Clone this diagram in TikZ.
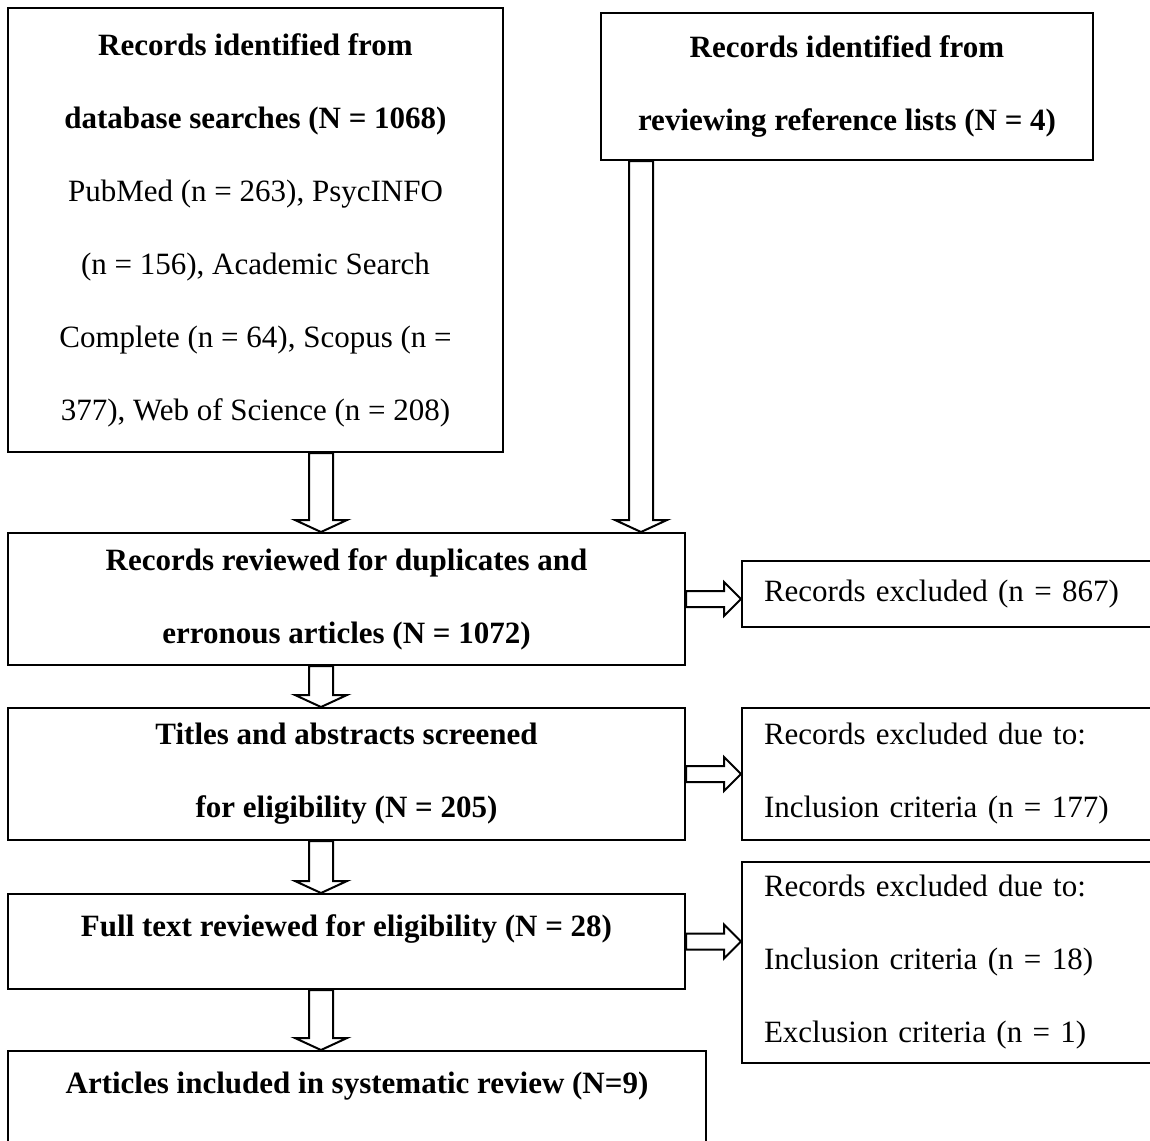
\documentclass[tikz,border=0pt]{standalone}
\usepackage{fontspec}
\setmainfont{Liberation Serif}
\usetikzlibrary{calc}
% hollow block arrows between two points
\newcommand{\downblock}[2]{%
  \filldraw[blockarrow] ($(#1)+(-12,0)$) -- ($(#2)+(-12,-12)$) -- ($(#2)+(-26,-12)$) -- (#2)
    -- ($(#2)+(26,-12)$) -- ($(#2)+(12,-12)$) -- ($(#1)+(12,0)$) -- cycle;}
\newcommand{\rightblock}[2]{%
  \filldraw[blockarrow] ($(#1)+(0,-8)$) -- ($(#2)+(-17,-8)$) -- ($(#2)+(-17,-17)$) -- (#2)
    -- ($(#2)+(-17,17)$) -- ($(#2)+(-17,8)$) -- ($(#1)+(0,8)$) -- cycle;}
\tikzset{
  box/.style={draw=black, line width=1pt, inner ysep=0pt, align=center,
    font=\fontsize{15.5}{36.5}\selectfont},
  sidebox/.style={box, align=left, inner xsep=11pt, text width=187pt},
  topbox/.style={box, anchor=base, text height=21pt, text depth=26.5pt},
  blockarrow/.style={draw=black, fill=white, line width=1pt, line join=miter},
}
\begin{document}
\begin{tikzpicture}[x=0.5pt, y=-0.5pt]
\useasboundingbox (0,0) rectangle (1150,1140);
% identification
\node[box, minimum width=247.5pt, minimum height=222pt] (db) at (255.5,230)
  {\textbf{Records identified from}\\ \textbf{database searches (N = 1068)}\\ PubMed (n = 263), PsycINFO\\ (n = 156), Academic Search\\ Complete (n = 64), Scopus (n =\\ 377), Web of Science (n = 208)};
\node[box, minimum width=246pt, minimum height=73.5pt] (ref) at (847,86.5)
  {\textbf{Records identified from}\\ \textbf{reviewing reference lists (N = 4)}};
% screening
\node[box, minimum width=338.5pt, minimum height=66pt] (dup) at (346.5,599)
  {\textbf{Records reviewed for duplicates and}\\ \textbf{erronous articles (N = 1072)}};
\node[sidebox, minimum height=33pt] (exc1) at (951,594) {Records excluded (n = 867)};
\node[box, minimum width=338.5pt, minimum height=66pt] (title) at (346.5,774)
  {\textbf{Titles and abstracts screened}\\ \textbf{for eligibility (N = 205)}};
\node[sidebox, minimum height=66pt] (exc2) at (951,774)
  {Records excluded due to:\\ Inclusion criteria (n = 177)};
% eligibility
\node[topbox, minimum width=338.5pt] (full) at (346.5,936)
  {\textbf{Full text reviewed for eligibility (N = 28)}};
\node[sidebox, minimum height=100.5pt] (exc3) at (951,962.5)
  {Records excluded due to:\\ Inclusion criteria (n = 18)\\ Exclusion criteria (n = 1)};
% included
\node[topbox, minimum width=349pt] (incl) at (357,1093)
  {\textbf{Articles included in systematic review (N=9)}};
% arrows
\coordinate (colL) at (321,0);
\coordinate (colR) at (641,0);
\downblock{db.south -| colL}{dup.north -| colL}
\downblock{ref.south -| colR}{dup.north -| colR}
\downblock{dup.south -| colL}{title.north -| colL}
\downblock{title.south -| colL}{full.north -| colL}
\downblock{full.south -| colL}{incl.north -| colL}
\rightblock{dup.east}{exc1.west |- dup.east}
\rightblock{title.east}{exc2.west |- title.east}
\rightblock{full.east}{exc3.west |- full.east}
\end{tikzpicture}
\end{document}
